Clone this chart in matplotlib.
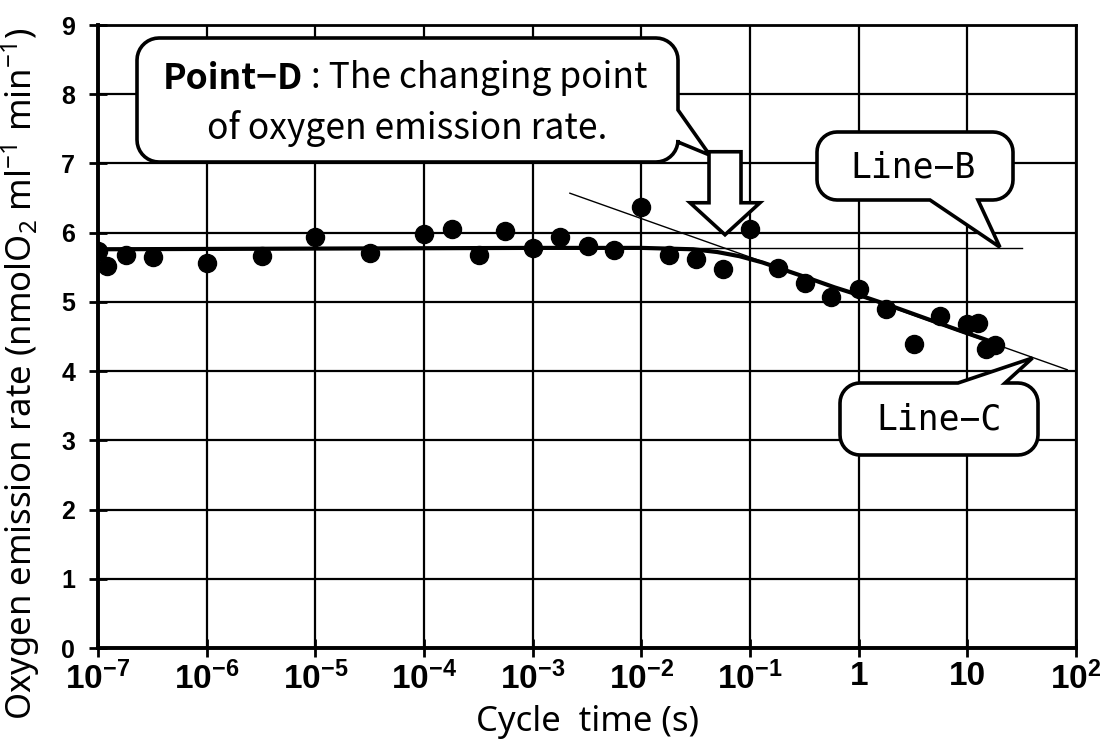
import numpy as np
import matplotlib
matplotlib.use("Agg")
import matplotlib.pyplot as plt
from matplotlib.patches import Polygon
from matplotlib.transforms import IdentityTransform
from matplotlib.ticker import NullLocator

# measured oxygen emission rate vs. cycle time
cycle_time = [1.0e-7, 1.2e-7, 1.8e-7, 3.2e-7, 1.0e-6, 3.2e-6, 1.0e-5, 3.2e-5,
              1.0e-4, 1.8e-4, 3.2e-4, 5.6e-4, 1.0e-3, 1.8e-3, 3.2e-3, 5.6e-3,
              1.0e-2, 1.8e-2, 3.2e-2, 5.6e-2, 0.1, 0.18, 0.32, 0.56,
              1.0, 1.8, 3.2, 5.6, 10, 12.6, 15, 18]
emission = [5.73, 5.52, 5.68, 5.65, 5.56, 5.66, 5.94, 5.71,
            5.98, 6.05, 5.68, 6.03, 5.78, 5.94, 5.81, 5.75,
            6.37, 5.68, 5.62, 5.47, 6.05, 5.49, 5.28, 5.07,
            5.18, 4.90, 4.39, 4.80, 4.68, 4.70, 4.32, 4.37]

# fitted curve (thick line)
fit_x = [1e-7, 1e-5, 1e-3, 1e-2, 0.03, 0.05, 0.08, 0.13, 0.2, 0.35, 0.6,
         1, 2, 4, 8, 15, 20]
fit_y = [5.76, 5.77, 5.78, 5.78, 5.76, 5.72, 5.66, 5.57, 5.47, 5.34, 5.21,
         5.10, 4.94, 4.77, 4.60, 4.45, 4.38]

# Line-B (plateau) and Line-C (decline)
lineB_x = [1e-7, 32]
lineB_y = [5.78, 5.78]
lineC_x = [2.2e-3, 83]
lineC_y = [6.57, 4.02]

xticks = [1e-7, 1e-6, 1e-5, 1e-4, 1e-3, 1e-2, 1e-1, 1, 10, 100]
xlabels = ['$10^{-7}$', '$10^{-6}$', '$10^{-5}$', '$10^{-4}$', '$10^{-3}$',
           '$10^{-2}$', '$10^{-1}$', '1', '10', '$10^{2}$']

plt.rcParams['mathtext.default'] = 'regular'

W, H = 1113, 748
fig = plt.figure(figsize=(W / 100, H / 100), dpi=100)
ax = fig.add_axes([98 / W, 100 / H, 978 / W, 623 / H])

ax.set_xscale('log')
ax.set_xlim(1e-7, 1e2)
ax.set_ylim(0, 9)
ax.set_xticks(xticks)
ax.set_xticklabels(xlabels, fontfamily='Liberation Sans', fontweight='bold', fontsize=24)
ax.xaxis.set_minor_locator(NullLocator())
ax.set_yticks(range(10))
ax.set_yticklabels([str(v) for v in range(10)], fontfamily='Liberation Sans',
                   fontweight='bold', fontsize=18)
ax.tick_params(direction='inout', length=13, width=2, pad=3)
ax.tick_params(axis='y', pad=10)
ax.grid(True, color='black', lw=1.6)
ax.set_axisbelow(True)
for s in ['left', 'bottom']:
    ax.spines[s].set_linewidth(2.8)
for s in ['top', 'right']:
    ax.spines[s].set_linewidth(2.0)

ax.set_xlabel('Cycle  time (s)', fontfamily='Noto Sans', fontsize=25)
ax.xaxis.set_label_coords(0.5, -0.092)
ax.set_ylabel('Oxygen emission rate (nmolO$_2$ ml$^{-1}$ min$^{-1}$)',
              fontfamily='Noto Sans', fontsize=25, va='baseline')
ax.yaxis.set_label_coords(-0.067, 0.44)

ax.plot(lineB_x, lineB_y, color='black', lw=1.0, zorder=3)
ax.plot(lineC_x, lineC_y, color='black', lw=1.0, zorder=3)
ax.plot(fit_x, fit_y, color='black', lw=3.0, zorder=3)
ax.plot(cycle_time, emission, 'o', color='black', ms=13, zorder=4)


def to_disp(x, y):
    # pixel position measured from the top-left corner of the figure
    return (x, H - y)


def callout(box, r, edge, a, b, tip):
    x0, y0, x1, y1 = box
    L, T = to_disp(x0, y0)
    R, B = to_disp(x1, y1)
    tx, ty = ax.transData.transform(tip)

    def arc(cx, cy, a0, a1):
        t = np.radians(np.linspace(a0, a1, 10))
        return list(zip(cx + r * np.cos(t), cy + r * np.sin(t)))

    pts = [(L + r, T)]
    if edge == 'top':
        pts += [(a, T), (tx, ty), (b, T)]
    pts += arc(R - r, T - r, 90, 0)
    if edge == 'right':
        pts += [(R, H - a), (tx, ty), (R, H - b)]
    pts += arc(R - r, B + r, 0, -90)
    if edge == 'bottom':
        pts += [(a, B), (tx, ty), (b, B)]
    pts += arc(L + r, B + r, -90, -180)
    pts += arc(L + r, T - r, 180, 90)
    poly = Polygon(pts, closed=True, transform=IdentityTransform(),
                   fc='white', ec='black', lw=2.6, zorder=6, clip_on=False)
    ax.add_patch(poly)


# Point-D callout
callout((137, 38, 678, 162), 22, 'right', 110, 142, (10 ** -1.37, 7.12))
t1 = ax.text(*to_disp(163, 89), 'Point\u2212D', transform=IdentityTransform(),
             fontfamily='Noto Sans CJK JP', fontweight='bold', fontsize=25.5,
             va='baseline', ha='left', zorder=7)
ax.annotate(' : The changing point', xy=(1, 0), xycoords=t1, va='bottom',
            ha='left', fontfamily='Noto Sans CJK JP', fontsize=25.5, zorder=7)
ax.text(*to_disp(407, 139), 'of oxygen emission rate.', transform=IdentityTransform(),
        fontfamily='Noto Sans CJK JP', fontsize=25.5, va='baseline', ha='center', zorder=7)

# hollow arrow pointing at Point-D
tx, ty = ax.transData.transform((10 ** -1.23, 5.97))
arrow = [(tx - 16, ty + 83), (tx + 16, ty + 83), (tx + 16, ty + 32), (tx + 35, ty + 32),
         (tx, ty), (tx - 35, ty + 32), (tx - 16, ty + 32)]
ax.add_patch(Polygon(arrow, closed=True, transform=IdentityTransform(),
                     fc='white', ec='black', lw=2.6, zorder=6, clip_on=False))

# Line-B callout
callout((817, 132, 1013, 200), 20, 'bottom', 978, 930, (10 ** 1.30, 5.79))
ax.text(*to_disp(913, 167), 'Line\u2212B', transform=IdentityTransform(),
        fontfamily='DejaVu Sans Mono', fontsize=25, va='center', ha='center', zorder=7)

# Line-C callout
callout((840, 383, 1038, 455), 20, 'top', 958, 1005, (10 ** 1.60, 4.19))
ax.text(*to_disp(939, 419), 'Line\u2212C', transform=IdentityTransform(),
        fontfamily='DejaVu Sans Mono', fontsize=25, va='center', ha='center', zorder=7)

fig.savefig('out.png', dpi=100)
